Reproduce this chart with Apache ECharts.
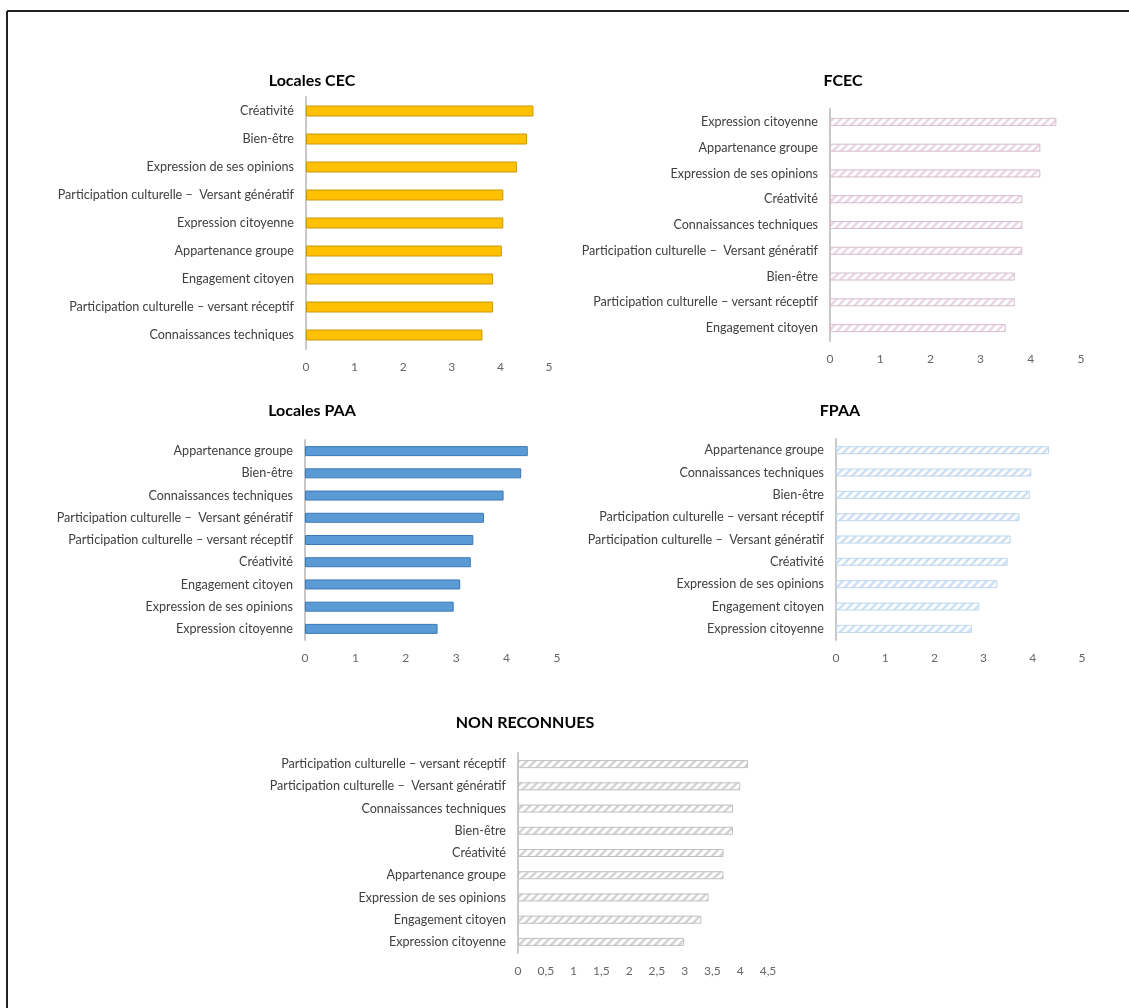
<!DOCTYPE html>
<html><head><meta charset="utf-8">
<script src="https://cdn.jsdelivr.net/npm/echarts@6/dist/echarts.min.js"></script>
<style>html,body{margin:0;padding:0;background:#fff}#c{width:1129px;height:1008px}</style>
</head><body><div id="c"></div><script>
// ---- Data ----
const titleLocalesCEC = 'Locales CEC';
const catsLocalesCEC = ['Créativité','Bien-être','Expression de ses opinions','Participation culturelle –  Versant génératif','Expression citoyenne','Appartenance groupe','Engagement citoyen','Participation culturelle – versant réceptif','Connaissances techniques'];
const valsLocalesCEC = [4.68, 4.55, 4.34, 4.06, 4.06, 4.03, 3.85, 3.85, 3.63];

const titleFCEC = 'FCEC';
const catsFCEC = ['Expression citoyenne','Appartenance groupe','Expression de ses opinions','Créativité','Connaissances techniques','Participation culturelle –  Versant génératif','Bien-être','Participation culturelle – versant réceptif','Engagement citoyen'];
const valsFCEC = [4.51, 4.19, 4.19, 3.83, 3.83, 3.83, 3.68, 3.68, 3.50];

const titleLocalesPAA = 'Locales PAA';
const catsLocalesPAA = ['Appartenance groupe','Bien-être','Connaissances techniques','Participation culturelle –  Versant génératif','Participation culturelle – versant réceptif','Créativité','Engagement citoyen','Expression de ses opinions','Expression citoyenne'];
const valsLocalesPAA = [4.42, 4.29, 3.94, 3.55, 3.34, 3.29, 3.08, 2.95, 2.63];

const titleFPAA = 'FPAA';
const catsFPAA = ['Appartenance groupe','Connaissances techniques','Bien-être','Participation culturelle – versant réceptif','Participation culturelle –  Versant génératif','Créativité','Expression de ses opinions','Engagement citoyen','Expression citoyenne'];
const valsFPAA = [4.33, 3.97, 3.94, 3.73, 3.55, 3.49, 3.28, 2.91, 2.76];

const titleNonReconnues = 'NON RECONNUES';
const catsNonReconnues = ['Participation culturelle – versant réceptif','Participation culturelle –  Versant génératif','Connaissances techniques','Bien-être','Créativité','Appartenance groupe','Expression de ses opinions','Engagement citoyen','Expression citoyenne'];
const valsNonReconnues = [4.14, 4.00, 3.87, 3.87, 3.70, 3.70, 3.43, 3.30, 2.99];

const ticksMax = [5, 5, 5, 5, 4.5];
const ticksInterval = [1, 1, 1, 1, 0.5];

// ---- Rendering ----
const FONT = 'Lato, "Open Sans", sans-serif';
function hatch(stroke) {
  const c = document.createElement('canvas');
  c.width = 8; c.height = 8;
  const g = c.getContext('2d');
  g.fillStyle = '#ffffff'; g.fillRect(0, 0, 8, 8);
  g.strokeStyle = stroke; g.lineWidth = 2.4; g.lineCap = 'butt';
  g.beginPath();
  g.moveTo(-1, 9); g.lineTo(9, -1);
  g.moveTo(-3, 3); g.lineTo(3, -3);
  g.moveTo(5, 11); g.lineTo(11, 5);
  g.stroke();
  return { image: c, repeat: 'repeat' };
}

const panels = [
  { title: titleLocalesCEC, cats: catsLocalesCEC, vals: valsLocalesCEC, grid: {left: 306, top: 97, width: 243, height: 252}, tx: 312, ty: 73, fs: 16,
    color: '#FFC000', border: '#C89A00', barWidth: 11 },
  { title: titleFCEC, cats: catsFCEC, vals: valsFCEC, grid: {left: 830, top: 109, width: 251, height: 232}, tx: 843, ty: 73, fs: 16,
    color: hatch('#EAD6E4'), border: '#D6BCCD', barWidth: 8 },
  { title: titleLocalesPAA, cats: catsLocalesPAA, vals: valsLocalesPAA, grid: {left: 305, top: 440, width: 252, height: 200}, tx: 312, ty: 403, fs: 16,
    color: '#5B9BD5', border: '#3A78B8', barWidth: 10 },
  { title: titleFPAA, cats: catsFPAA, vals: valsFPAA, grid: {left: 836, top: 439, width: 246, height: 201}, tx: 840, ty: 403, fs: 16,
    color: hatch('#CCE0F4'), border: '#BDD7EE', barWidth: 8 },
  { title: titleNonReconnues, cats: catsNonReconnues, vals: valsNonReconnues, grid: {left: 518, top: 753, width: 250, height: 200}, tx: 525, ty: 715, fs: 16,
    color: hatch('#D3D3D3'), border: '#BFBFBF', barWidth: 8 }
];

const option = {
  backgroundColor: '#ffffff',
  animation: false,
  title: panels.map(p => ({
    text: p.title, left: p.tx, top: p.ty, textAlign: 'center', padding: 0,
    textStyle: { fontFamily: FONT, fontWeight: 'bold', fontSize: p.fs, color: '#000' }
  })),
  grid: panels.map(p => Object.assign({ containLabel: false }, p.grid)),
  xAxis: panels.map((p, i) => ({
    type: 'value', gridIndex: i, min: 0, max: ticksMax[i], interval: ticksInterval[i],
    axisLine: { show: false }, axisTick: { show: false }, splitLine: { show: false },
    axisLabel: { color: '#666666', fontSize: 12, fontFamily: FONT, margin: 12,
      formatter: v => String(v).replace('.', ',') }
  })),
  yAxis: panels.map((p, i) => ({
    type: 'category', gridIndex: i, data: p.cats, inverse: true,
    axisLine: { show: true, lineStyle: { color: '#C8C8C8', width: 2 } },
    axisTick: { show: false },
    axisLabel: { color: '#404040', fontSize: 12.6, fontFamily: FONT, margin: 12 }
  })),
  series: panels.map((p, i) => ({
    type: 'bar', xAxisIndex: i, yAxisIndex: i, data: p.vals, barWidth: p.barWidth,
    itemStyle: { color: p.color, borderColor: p.border, borderWidth: 1 }
  })),
  graphic: [
    { type: 'line', shape: { x1: 7, y1: 11, x2: 1129, y2: 11 }, style: { stroke: '#222', lineWidth: 2 } },
    { type: 'line', shape: { x1: 7, y1: 11, x2: 7, y2: 1008 }, style: { stroke: '#222', lineWidth: 2 } }
  ]
};

const chart = echarts.init(document.getElementById('c'), null, { renderer: 'canvas' });
chart.setOption(option);
</script></body></html>
